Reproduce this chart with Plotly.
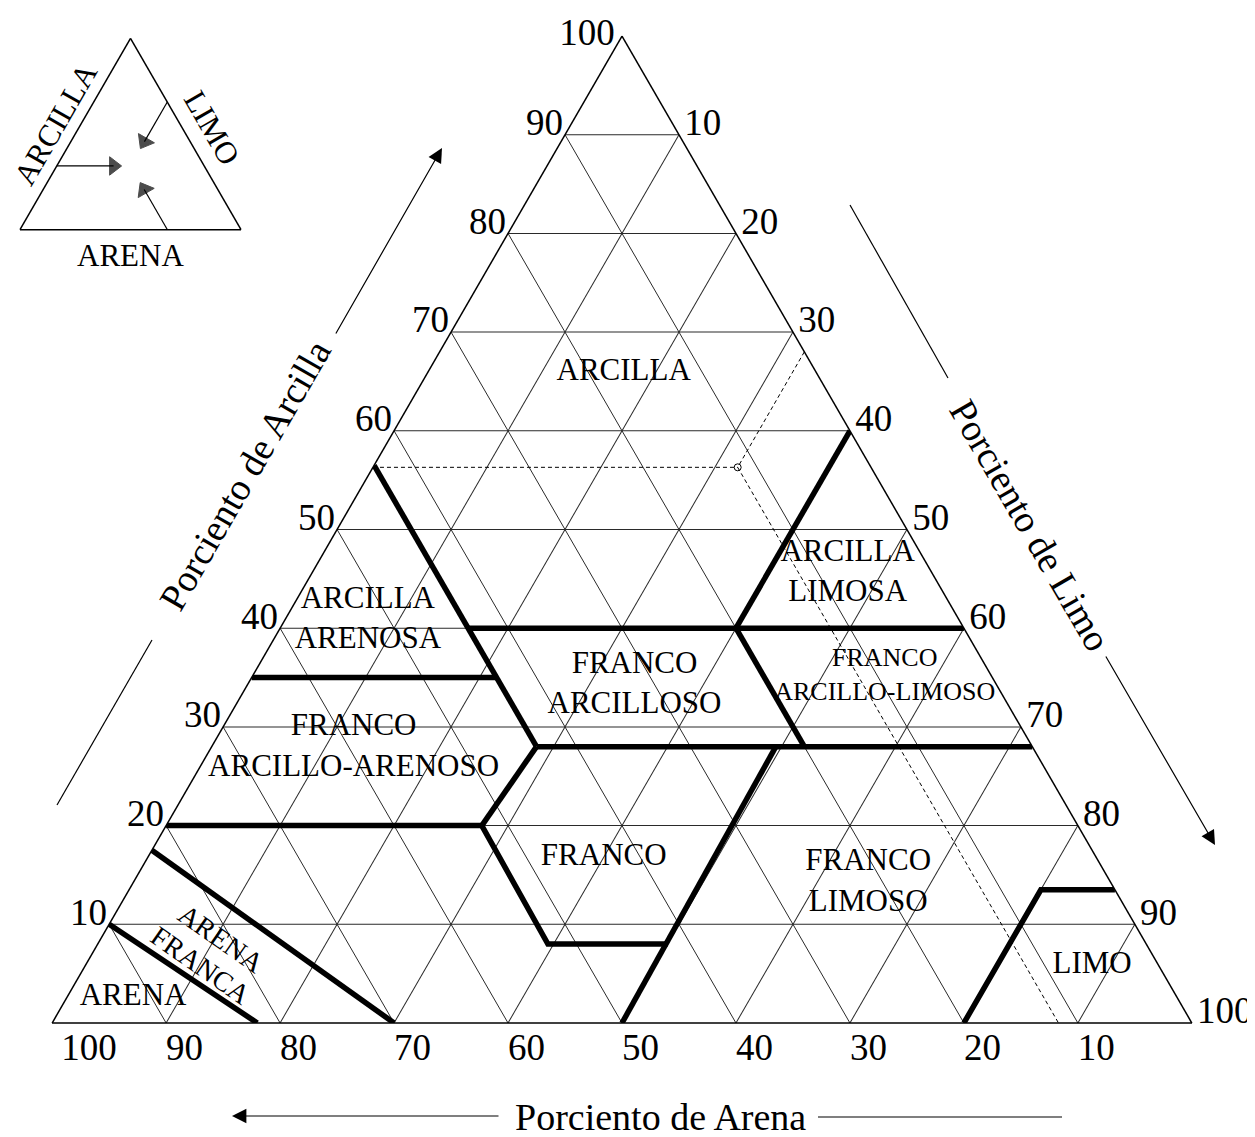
import plotly.graph_objects as go

W, H = 1255, 1137
OFF = 8  # page body margin in the browser
FONT = "Liberation Serif"

# ---------------- data (percent: clay, sand, silt) ----------------
tick_values = [10, 20, 30, 40, 50, 60, 70, 80, 90, 100]
tick_text = ["10", "20", "30", "40", "50", "60", "70", "80", "90", "100"]

# texture-class boundaries (thick lines)
b_sand_clay = [10, 0];        b_sand_sand = [90, 82];        b_sand_silt = [0, 18]
b_lsand_clay = [17.5, 0];     b_lsand_sand = [82.5, 70];     b_lsand_silt = [0, 30]
b_c20_clay = [20, 20];        b_c20_sand = [80, 52.3];       b_c20_silt = [0, 27.7]
b_loamup_clay = [20, 28];     b_loamup_sand = [52.3, 43.5];  b_loamup_silt = [27.7, 28.5]
b_s435_clay = [56.5, 28];     b_s435_sand = [43.5, 43.5];    b_s435_silt = [0, 28.5]
b_c35_clay = [35, 35];        b_c35_sand = [65, 43.5];       b_c35_silt = [0, 21.5]
b_c40_clay = [40, 40];        b_c40_sand = [43.5, 0];        b_c40_silt = [16.5, 60]
b_si40_clay = [60, 40];       b_si40_sand = [0, 20];         b_si40_silt = [40, 40]
b_s20_clay = [40, 28];        b_s20_sand = [20, 20];         b_s20_silt = [40, 52]
b_c28_clay = [28, 28];        b_c28_sand = [43.5, 0];        b_c28_silt = [28.5, 72]
b_si50_clay = [28, 0];        b_si50_sand = [22.5, 50];      b_si50_silt = [49.5, 50]
b_loamlo_clay = [20, 8, 8];   b_loamlo_sand = [52.3, 52.5, 42]; b_loamlo_silt = [27.7, 39.5, 50]
b_silt_clay = [0, 13.5, 13.5]; b_silt_sand = [20, 6.5, 0];   b_silt_silt = [80, 80, 86.5]

boundaries = [
    (b_sand_clay, b_sand_sand, b_sand_silt),
    (b_lsand_clay, b_lsand_sand, b_lsand_silt),
    (b_c20_clay, b_c20_sand, b_c20_silt),
    (b_loamup_clay, b_loamup_sand, b_loamup_silt),
    (b_s435_clay, b_s435_sand, b_s435_silt),
    (b_c35_clay, b_c35_sand, b_c35_silt),
    (b_c40_clay, b_c40_sand, b_c40_silt),
    (b_si40_clay, b_si40_sand, b_si40_silt),
    (b_s20_clay, b_s20_sand, b_s20_silt),
    (b_c28_clay, b_c28_sand, b_c28_silt),
    (b_si50_clay, b_si50_sand, b_si50_silt),
    (b_loamlo_clay, b_loamlo_sand, b_loamlo_silt),
    (b_silt_clay, b_silt_sand, b_silt_silt),
]

# example sample point and its guide lines
ex_clay, ex_sand, ex_silt = 56.3, 11.7, 32.0
guide_clay_line = ([56.3, ex_clay], [43.7, ex_sand], [0, ex_silt])
guide_silt_line = ([68.0, ex_clay], [0, ex_sand], [32.0, ex_silt])
guide_sand_line = ([ex_clay, 0], [ex_sand, 11.7], [ex_silt, 88.3])

# class labels (centres)
label_text = ["ARCILLA", "ARCILLA<br>LIMOSA", "ARCILLA<br>ARENOSA", "FRANCO<br>ARCILLOSO",
              "FRANCO<br>ARCILLO-ARENOSO", "FRANCO", "FRANCO<br>LIMOSO", "LIMO", "ARENA"]
label_clay = [65.9, 45.6, 40.8, 34.2, 27.9, 16.8, 14.2, 5.9, 2.6]
label_sand = [16.9, 7.4, 51.9, 31.8, 59.6, 43.2, 21.3, 5.8, 91.6]
label_silt = [17.2, 47.0, 7.3, 34.0, 12.5, 40.0, 64.5, 88.3, 5.8]
small_label_text = ["FRANCO<br>ARCILLO-LIMOSO"]
small_label_clay = [35.1]
small_label_sand = [9.4]
small_label_silt = [55.5]

# inset diagram arrows (clay, sand, silt)
inset_a = ([33.3, 33.3], [66.7, 41.0], [0, 25.7])
inset_b = ([66.7, 46.0], [0, 20.7], [33.3, 33.3])
inset_c = ([0, 21.0], [33.3, 33.3], [66.7, 45.7])

# styling constants
NUDGE = 0.9          # shift of tick-label anchors along the triangle edge (percent units)
BOTTOM_NUDGE = 0.8


def px(x):
    return (x - OFF) / W


def py(y):
    return 1 - (y - OFF) / H


def tern_domain(cx, cy, tri_h, half_w):
    xc = px(cx)
    yc = py(cy)
    hh = tri_h / H / 2
    return dict(x=[xc - half_w, xc + half_w], y=[yc - hh, yc + hh])


fig = go.Figure()

for cl, sa, si in boundaries:
    fig.add_trace(go.Scatterternary(a=cl, b=sa, c=si, mode="lines",
                                    line=dict(color="black", width=5.5),
                                    hoverinfo="skip", subplot="ternary"))

for cl, sa, si in (guide_clay_line, guide_silt_line, guide_sand_line):
    fig.add_trace(go.Scatterternary(a=cl, b=sa, c=si, mode="lines",
                                    line=dict(color="black", width=1, dash="4px,3px"),
                                    hoverinfo="skip", subplot="ternary"))

fig.add_trace(go.Scatterternary(a=[ex_clay], b=[ex_sand], c=[ex_silt], mode="markers",
                                marker=dict(symbol="circle-open", size=7, color="black",
                                            line=dict(width=1)),
                                hoverinfo="skip", subplot="ternary"))

fig.add_trace(go.Scatterternary(a=label_clay, b=label_sand, c=label_silt, mode="text",
                                text=label_text, textposition="middle center",
                                textfont=dict(family=FONT, size=31, color="black"),
                                hoverinfo="skip", subplot="ternary"))
fig.add_trace(go.Scatterternary(a=small_label_clay, b=small_label_sand, c=small_label_silt,
                                mode="text", text=small_label_text,
                                textposition="middle center",
                                textfont=dict(family=FONT, size=26, color="black"),
                                hoverinfo="skip", subplot="ternary"))

# tick labels anchored on the triangle edges at each axis value
tick_font = dict(family=FONT, size=37, color="black")
left_a = [min(v + NUDGE, 100) for v in tick_values]
fig.add_trace(go.Scatterternary(a=left_a, b=[100 - a for a in left_a], c=[0] * len(left_a),
                                mode="markers+text", text=tick_text, textposition="middle left",
                                textfont=tick_font, marker=dict(size=10, opacity=0),
                                cliponaxis=False, hoverinfo="skip", subplot="ternary"))
bottom_b = [min(v + BOTTOM_NUDGE, 100) for v in tick_values]
fig.add_trace(go.Scatterternary(a=[0] * len(bottom_b), b=bottom_b, c=[100 - b for b in bottom_b],
                                mode="markers+text", text=tick_text,
                                textposition="bottom right", textfont=tick_font,
                                marker=dict(size=13, opacity=0),
                                cliponaxis=False, hoverinfo="skip", subplot="ternary"))
right_c = [v - NUDGE for v in tick_values]
fig.add_trace(go.Scatterternary(a=[100 - c for c in right_c], b=[0] * len(right_c), c=right_c,
                                mode="markers+text", text=tick_text, textposition="middle right",
                                textfont=tick_font, marker=dict(size=15, opacity=0),
                                cliponaxis=False, hoverinfo="skip", subplot="ternary"))

for cl, sa, si in (inset_a, inset_b, inset_c):
    fig.add_trace(go.Scatterternary(a=cl, b=sa, c=si, mode="lines+markers",
                                    line=dict(color="black", width=1.2),
                                    marker=dict(symbol="triangle-up", size=[0, 16], color="black",
                                                angleref="previous",
                                                line=dict(width=1, color="black")),
                                    hoverinfo="skip", subplot="ternary2"))

axis_common = dict(
    tickmode="array", tickvals=tick_values, ticks="", showticklabels=False,
    showgrid=True, gridcolor="#2a2a2a", gridwidth=1,
    showline=True, linecolor="black", linewidth=1.5,
    title=dict(text=""), min=0,
)

inset_axis = dict(showgrid=False, showticklabels=False, ticks="", showline=True,
                  linecolor="black", linewidth=1.5, title=dict(text=""), min=0)

fig.update_layout(
    width=W, height=H,
    margin=dict(l=0, r=0, t=0, b=0),
    paper_bgcolor="white", plot_bgcolor="white",
    showlegend=False,
    ternary=dict(sum=100, bgcolor="white",
                 domain=tern_domain(622, 529.5, 987, 0.47),
                 aaxis=axis_common, baxis=axis_common, caxis=axis_common),
    ternary2=dict(sum=100, bgcolor="white",
                  domain=tern_domain(130.5, 134, 191.4, 0.095),
                  aaxis=inset_axis, baxis=inset_axis, caxis=inset_axis),
)


def label(x, y, text, font, angle=0):
    return dict(x=px(x), y=py(y), xref="paper", yref="paper", text=text, showarrow=False,
                font=font, textangle=angle, xanchor="center", yanchor="middle")


ann = []
tf = dict(family=FONT, size=38, color="black")
ann.append(label(660, 1117, "Porciento de Arena", tf))
ann.append(label(245, 475, "Porciento de Arcilla", tf, -60))
ann.append(label(1030, 525, "Porciento de Limo", tf, 60))
# arrows next to axis titles
for (tx, ty, axp, ayp) in [(232, 1116, 268, 0), (442, 148, -107, 187), (1215, 845, -110, -190)]:
    ann.append(dict(x=px(tx), y=py(ty), xref="paper", yref="paper", text="", showarrow=True,
                    arrowhead=2, arrowsize=2.4, arrowwidth=1.2, arrowcolor="black",
                    ax=axp, ay=ayp, xanchor="center", yanchor="middle"))
# inset labels
inf = dict(family=FONT, size=31, color="black")
ann.append(label(130, 256, "ARENA", inf))
ann.append(label(55, 124, "ARCILLA", inf, -60))
ann.append(label(212, 127, "LIMO", inf, 60))
# rotated class labels
rf = dict(family=FONT, size=28, color="black")
ann.append(label(221, 938, "ARENA", rf, 35))
ann.append(label(201, 965, "FRANCA", rf, 35))
fig.update_layout(annotations=ann)

shapes = []
for (x0, y0, x1, y1) in [(818, 1117, 1062, 1117), (57, 805, 152, 640), (850, 205, 948, 378)]:
    shapes.append(dict(type="line", xref="paper", yref="paper", x0=px(x0), y0=py(y0),
                       x1=px(x1), y1=py(y1), line=dict(color="black", width=1.2)))
fig.update_layout(shapes=shapes)

fig.write_html("out.html")
